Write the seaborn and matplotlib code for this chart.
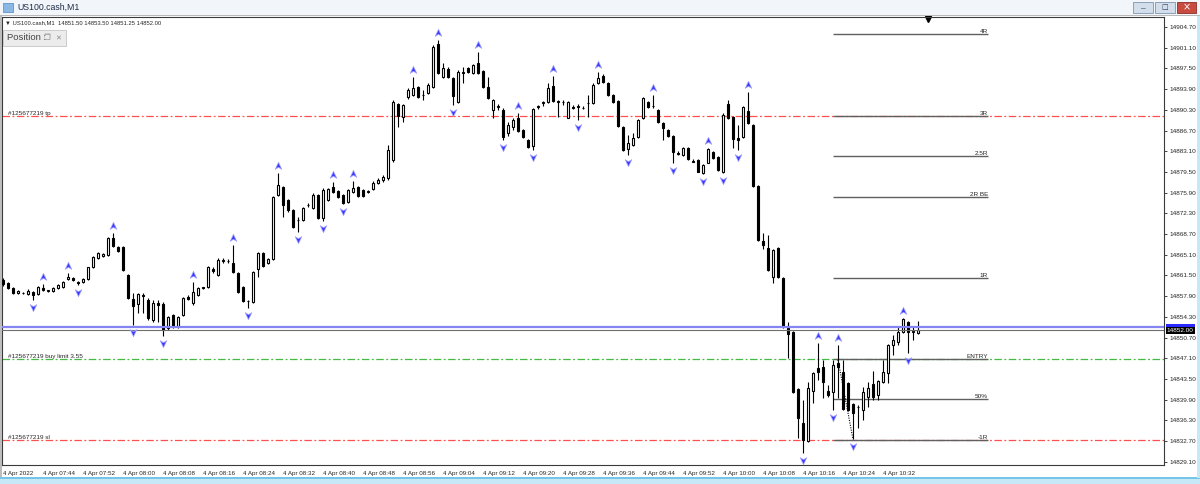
import numpy as np
import pandas as pd
import seaborn as sns
import matplotlib.pyplot as plt
from matplotlib.patches import Rectangle
from matplotlib.path import Path
from matplotlib.transforms import offset_copy, blended_transform_factory

sns.set_style('white')
plt.rcParams['font.family'] = ['Liberation Sans', 'DejaVu Sans']

# US100.cash M1 bars, 4 Apr 2022 07:36 .. 10:39
opens = [14860.7, 14860.2, 14859.3, 14858.4, 14858.4, 14858.3, 14858.6, 14858.3, 14859.3, 14858.8,
         14858.8, 14859.3, 14859.5, 14860.9, 14861.1, 14860.4, 14860.4, 14860.9, 14862.9, 14864.5,
         14864.9, 14865.1, 14868.0, 14866.4, 14866.4, 14861.6, 14857.4, 14856.5, 14858.1, 14857.2,
         14853.8, 14856.7, 14856.5, 14852.4, 14854.6, 14852.5, 14854.6, 14857.7, 14856.7, 14858.1,
         14859.3, 14859.5, 14862.6, 14861.6, 14864.0, 14864.0, 14863.7, 14861.9, 14859.5, 14857.0,
         14856.9, 14862.6, 14865.4, 14863.7, 14864.4, 14875.5, 14876.9, 14874.6, 14872.9, 14871.1,
         14871.1, 14873.7, 14873.2, 14875.5, 14871.5, 14874.6, 14876.9, 14876.2, 14875.5, 14874.3,
         14876.0, 14876.9, 14876.4, 14876.0, 14876.5, 14877.6, 14878.1, 14878.4, 14881.6, 14891.3,
         14889.1, 14892.5, 14892.9, 14894.3, 14892.9, 14893.2, 14894.3, 14901.7, 14896.0, 14897.4,
         14895.8, 14891.7, 14896.7, 14897.6, 14896.7, 14898.4, 14897.1, 14894.3, 14890.3, 14890.8,
         14890.3, 14886.3, 14887.3, 14888.9, 14886.8, 14885.1, 14884.0, 14890.8, 14891.5, 14891.7,
         14894.4, 14891.7, 14891.7, 14888.9, 14890.8, 14890.8, 14890.6, 14891.5, 14891.5, 14894.9,
         14896.2, 14895.0, 14892.9, 14891.8, 14887.3, 14883.5, 14884.2, 14885.6, 14888.9, 14891.7,
         14891.0, 14890.3, 14888.0, 14886.8, 14885.7, 14882.8, 14882.4, 14883.7, 14881.4, 14881.6,
         14879.3, 14881.1, 14882.9, 14882.1, 14879.5, 14891.3, 14889.1, 14885.4, 14885.6, 14890.1,
         14887.7, 14877.1, 14867.5, 14866.3, 14861.2, 14866.3, 14861.1, 14852.4, 14851.7, 14841.7,
         14835.8, 14832.7, 14841.4, 14845.4, 14845.6, 14841.4, 14841.2, 14846.3, 14844.7, 14842.8,
         14839.1, 14838.6, 14838.1, 14840.4, 14842.6, 14840.7, 14843.0, 14844.5, 14849.4, 14849.9,
         14851.7, 14853.4, 14851.7, 14851.5]
highs = [14861.1, 14860.4, 14859.5, 14859.0, 14858.6, 14859.1, 14858.8, 14859.7, 14860.0, 14859.0,
         14859.5, 14860.0, 14860.5, 14861.9, 14861.2, 14860.5, 14861.1, 14863.0, 14864.9, 14865.5,
         14865.4, 14868.2, 14868.9, 14866.6, 14866.6, 14861.8, 14858.4, 14858.4, 14858.4, 14857.6,
         14857.2, 14857.2, 14856.9, 14854.4, 14854.8, 14854.4, 14857.7, 14858.1, 14860.4, 14859.5,
         14859.5, 14863.1, 14862.9, 14864.5, 14864.5, 14864.4, 14866.8, 14862.1, 14859.7, 14857.2,
         14862.3, 14865.6, 14865.6, 14864.5, 14875.3, 14879.3, 14877.1, 14874.8, 14873.1, 14871.7,
         14873.4, 14874.1, 14875.8, 14875.7, 14876.7, 14876.7, 14877.8, 14876.4, 14875.7, 14876.5,
         14877.9, 14877.1, 14876.5, 14876.4, 14877.9, 14878.4, 14879.0, 14884.2, 14892.0, 14891.5,
         14891.3, 14894.1, 14896.0, 14894.4, 14893.7, 14895.0, 14901.6, 14902.4, 14898.4, 14897.7,
         14896.0, 14897.2, 14897.7, 14897.7, 14898.3, 14900.4, 14897.2, 14896.0, 14892.2, 14891.3,
         14890.6, 14888.2, 14888.9, 14889.7, 14887.0, 14885.2, 14890.6, 14891.1, 14891.8, 14895.0,
         14896.2, 14892.0, 14892.0, 14891.8, 14891.1, 14891.3, 14891.0, 14892.9, 14895.0, 14896.9,
         14896.5, 14895.1, 14893.0, 14892.0, 14887.5, 14885.9, 14886.3, 14888.7, 14892.5, 14891.8,
         14892.9, 14890.4, 14888.2, 14887.0, 14885.9, 14883.1, 14883.8, 14883.8, 14881.7, 14881.7,
         14880.9, 14883.7, 14883.1, 14882.3, 14889.7, 14892.0, 14889.2, 14887.7, 14891.0, 14893.4,
         14887.8, 14877.2, 14868.9, 14868.5, 14866.1, 14866.4, 14861.2, 14853.4, 14851.8, 14841.9,
         14839.8, 14843.0, 14844.7, 14849.7, 14846.8, 14842.4, 14846.8, 14849.4, 14846.8, 14843.0,
         14839.3, 14839.0, 14842.1, 14843.0, 14844.9, 14843.3, 14846.8, 14849.6, 14851.1, 14852.5,
         14854.1, 14853.6, 14852.5, 14853.5]
lows = [14859.7, 14859.1, 14858.3, 14858.3, 14858.3, 14858.1, 14857.2, 14858.1, 14858.8, 14858.6,
        14858.6, 14859.1, 14859.3, 14860.7, 14860.5, 14859.8, 14860.2, 14860.7, 14862.8, 14864.4,
        14864.7, 14864.9, 14866.4, 14865.6, 14862.3, 14857.4, 14852.9, 14855.0, 14855.0, 14853.8,
        14853.4, 14853.4, 14851.0, 14852.0, 14852.4, 14852.4, 14854.4, 14857.2, 14856.4, 14857.9,
        14859.1, 14859.3, 14861.9, 14861.4, 14863.7, 14863.7, 14861.9, 14858.4, 14856.9, 14855.8,
        14856.7, 14861.2, 14863.0, 14863.5, 14864.2, 14875.3, 14871.7, 14872.5, 14869.7, 14869.1,
        14871.0, 14873.4, 14873.0, 14871.3, 14871.0, 14874.4, 14875.8, 14875.0, 14873.9, 14874.1,
        14875.8, 14875.1, 14875.1, 14875.8, 14876.4, 14877.4, 14877.7, 14878.1, 14881.2, 14887.3,
        14888.2, 14892.2, 14892.7, 14892.4, 14892.0, 14893.0, 14894.1, 14896.5, 14895.8, 14895.8,
        14891.1, 14891.5, 14895.0, 14896.7, 14896.5, 14896.5, 14894.1, 14892.2, 14888.9, 14890.3,
        14885.1, 14885.8, 14886.8, 14886.4, 14885.4, 14883.7, 14883.3, 14890.4, 14891.0, 14891.5,
        14891.7, 14889.1, 14891.1, 14888.9, 14890.4, 14888.6, 14890.4, 14889.0, 14891.3, 14894.8,
        14894.9, 14892.7, 14891.5, 14887.3, 14883.1, 14882.4, 14884.0, 14885.4, 14888.7, 14890.6,
        14890.6, 14888.0, 14885.1, 14885.6, 14881.0, 14882.4, 14882.3, 14881.6, 14881.2, 14879.5,
        14879.1, 14881.0, 14881.7, 14879.6, 14879.3, 14888.7, 14883.7, 14883.3, 14885.4, 14887.8,
        14876.9, 14867.5, 14866.1, 14862.3, 14860.2, 14861.1, 14852.3, 14847.1, 14841.1, 14833.2,
        14830.6, 14832.5, 14839.3, 14843.3, 14840.2, 14840.4, 14838.1, 14840.2, 14838.1, 14837.9,
        14833.0, 14834.9, 14836.4, 14838.6, 14839.8, 14839.8, 14842.8, 14842.8, 14847.7, 14849.4,
        14851.5, 14848.0, 14850.3, 14851.25]
closes = [14860.0, 14859.3, 14858.4, 14858.8, 14858.5, 14858.8, 14858.1, 14859.5, 14859.0, 14858.9,
          14859.3, 14859.8, 14860.4, 14861.2, 14860.7, 14860.2, 14860.9, 14862.9, 14864.7, 14865.4,
          14865.2, 14868.0, 14866.6, 14865.7, 14862.4, 14857.6, 14856.2, 14858.3, 14858.0, 14854.1,
          14856.7, 14856.3, 14852.0, 14854.3, 14852.5, 14854.3, 14857.6, 14857.4, 14858.6, 14859.3,
          14859.4, 14862.9, 14862.3, 14864.2, 14864.1, 14864.0, 14862.1, 14858.6, 14857.0, 14857.1,
          14862.1, 14865.4, 14863.1, 14864.4, 14875.1, 14877.2, 14873.7, 14872.9, 14869.9, 14871.2,
          14873.2, 14873.8, 14875.5, 14871.5, 14876.4, 14876.5, 14876.0, 14875.1, 14874.1, 14876.4,
          14876.7, 14875.3, 14875.3, 14876.1, 14877.6, 14878.1, 14878.6, 14883.3, 14891.7, 14889.2,
          14891.1, 14893.7, 14894.1, 14892.5, 14892.8, 14894.6, 14901.2, 14896.7, 14897.6, 14896.0,
          14892.7, 14896.9, 14896.8, 14896.9, 14898.1, 14896.7, 14894.3, 14892.4, 14892.0, 14890.9,
          14885.6, 14887.7, 14888.5, 14886.6, 14885.6, 14883.8, 14890.4, 14890.9, 14891.6, 14894.1,
          14891.8, 14891.8, 14891.6, 14891.7, 14890.7, 14890.9, 14890.7, 14891.4, 14894.6, 14895.8,
          14895.1, 14892.9, 14891.7, 14887.5, 14883.3, 14884.5, 14885.4, 14888.5, 14892.3, 14890.8,
          14890.9, 14888.2, 14887.1, 14885.7, 14882.9, 14882.7, 14883.7, 14881.7, 14881.3, 14879.5,
          14880.7, 14883.5, 14881.9, 14879.8, 14889.4, 14888.9, 14885.2, 14885.1, 14890.8, 14888.0,
          14877.1, 14867.7, 14866.8, 14862.4, 14865.9, 14861.2, 14852.5, 14851.3, 14841.2, 14836.7,
          14832.9, 14841.9, 14844.5, 14844.7, 14843.0, 14840.7, 14845.9, 14845.6, 14838.3, 14838.1,
          14837.6, 14838.7, 14841.2, 14841.9, 14840.4, 14843.1, 14844.7, 14849.4, 14850.3, 14851.7,
          14853.9, 14851.7, 14851.8, 14852.0]

# bars carrying a fractal arrow
up_fractals = [8, 13, 22, 38, 46, 55, 66, 70, 82, 87, 95, 103, 110, 119, 130, 141, 149, 163, 167, 180]
down_fractals = [6, 15, 26, 32, 49, 59, 64, 68, 90, 100, 106, 115, 125, 134, 140, 144, 147, 160, 166, 170, 181]

time_labels = ['4 Apr 2022', '4 Apr 07:44', '4 Apr 07:52', '4 Apr 08:00', '4 Apr 08:08', '4 Apr 08:16',
               '4 Apr 08:24', '4 Apr 08:32', '4 Apr 08:40', '4 Apr 08:48', '4 Apr 08:56', '4 Apr 09:04',
               '4 Apr 09:12', '4 Apr 09:20', '4 Apr 09:28', '4 Apr 09:36', '4 Apr 09:44', '4 Apr 09:52',
               '4 Apr 10:00', '4 Apr 10:08', '4 Apr 10:16', '4 Apr 10:24', '4 Apr 10:32']
price_ticks = np.round(np.arange(14829.10, 14905.0, 3.60), 2)

tp_price = 14889.3
limit_price = 14847.0
sl_price = 14832.9
bid = 14852.00
ask = 14852.50

fib_levels = [14903.4, 14889.3, 14882.25, 14875.2, 14861.1, 14847.0, 14839.95, 14832.9]
fib_names = ['4R', '3R', '2.5R', '2R BE', '1R', 'ENTRY', '50%', '-1R']
fib_start, fib_end = 166, 197
trend_bars = [167, 170]
trend_prices = [14846.8, 14833.0]
shift_bar = 185

df = pd.DataFrame({'open': opens, 'high': highs, 'low': lows, 'close': closes})
df['bar'] = np.arange(len(df))
bull = df['close'] >= df['open']
body_lo = df[['open', 'close']].min(axis=1)
body_h = (df['close'] - df['open']).abs()

W, H = 1200, 484
fig = plt.figure(figsize=(W / 100, H / 100), dpi=100)
fig.patch.set_facecolor('white')


def fx(x):
    return x / W


def fy(y):
    return 1 - y / H


ax = fig.add_axes([fx(2), fy(465), fx(1164) - fx(2), fy(17) - fy(465)])
ax.set_facecolor('white')
ax.set_xlim(-0.2, 232.2)
ax.set_ylim(14828.53, 14906.44)

# trade lines
dd = [6, 2, 1.5, 2]
ax.axhline(tp_price, color='#ff5050', lw=0.9, dashes=dd, zorder=1)
ax.axhline(limit_price, color='#44bb44', lw=0.9, dashes=dd, zorder=1)
ax.axhline(sl_price, color='#ff5050', lw=0.9, dashes=dd, zorder=1)
ytr = ax.get_yaxis_transform()
ax.text(0.005, tp_price, '#125677219 tp', transform=ytr, fontsize=4.6, va='bottom')
ax.text(0.005, limit_price, '#125677219 buy limit 3.55', transform=ytr, fontsize=4.6, va='bottom')
ax.text(0.005, sl_price, '#125677219 sl', transform=ytr, fontsize=4.6, va='bottom')

# R levels
ax.hlines(fib_levels, fib_start, fib_end, color='#606060', lw=1.0, zorder=1)
for lvl, name in zip(fib_levels, fib_names):
    ax.text(fib_end, lvl, name, fontsize=4.6, ha='right', va='bottom')
ax.plot(trend_bars, trend_prices, color='black', lw=0.8, ls=(0, (1, 1.2)), zorder=2)

# candles
ax.vlines(df['bar'], df['low'], df['high'], color='black', lw=0.8, zorder=2)
ax.bar(df['bar'][bull], body_h[bull], bottom=body_lo[bull], width=0.5,
       color='white', edgecolor='black', linewidth=0.8, zorder=3)
ax.bar(df['bar'][~bull], body_h[~bull], bottom=body_lo[~bull], width=0.5,
       color='black', edgecolor='black', linewidth=0.8, zorder=3)

# bid / ask lines
ax.axhline(ask, color='#8585f2', lw=1.6, zorder=4)
ax.axhline(bid, color='#6e6e6e', lw=0.8, zorder=4)

# fractal arrows
codes = [Path.MOVETO, Path.LINETO, Path.LINETO, Path.LINETO, Path.CLOSEPOLY]
up_arrow = Path([(0, 1), (0.8, -0.7), (0, -0.2), (-0.8, -0.7), (0, 1)], codes)
dn_arrow = Path([(0, -1), (0.8, 0.7), (0, 0.2), (-0.8, 0.7), (0, -1)], codes)
ups = df.loc[up_fractals]
dns = df.loc[down_fractals]
sns.scatterplot(x=ups['bar'], y=ups['high'], ax=ax, marker=up_arrow, s=36, color='#3c3cff',
                edgecolor='#a8a8ff', linewidth=0.5, legend=False, zorder=5,
                transform=offset_copy(ax.transData, fig=fig, y=7, units='dots'))
sns.scatterplot(x=dns['bar'], y=dns['low'], ax=ax, marker=dn_arrow, s=36, color='#3c3cff',
                edgecolor='#a8a8ff', linewidth=0.5, legend=False, zorder=5,
                transform=offset_copy(ax.transData, fig=fig, y=-7, units='dots'))

# chart shift marker
ax.plot([shift_bar], [0.995], marker='v', ms=4, color='black', clip_on=False,
        transform=blended_transform_factory(ax.transData, ax.transAxes))

# axes
ax.yaxis.tick_right()
ax.set_yticks(price_ticks)
ax.set_yticklabels([f'{p:.2f}' for p in price_ticks])
ax.tick_params(axis='y', direction='out', length=2.5, width=0.6, labelsize=4.6, pad=1.5)
ax.set_xticks(range(0, 8 * len(time_labels), 8))
ax.set_xticklabels(time_labels)
for lab in ax.get_xticklabels():
    lab.set_horizontalalignment('left')
ax.tick_params(axis='x', direction='out', length=2.5, width=0.6, labelsize=4.5, pad=1.5)
ax.set_xlabel('')
ax.set_ylabel('')
for s in ax.spines.values():
    s.set_color('#3a3a3a')
    s.set_linewidth(0.8)

ax.text(1.0025, ask, f'{ask:.2f}', transform=ytr, fontsize=4.6, color='#2a2aff', va='center', ha='left',
        bbox=dict(boxstyle='square,pad=0.15', fc='#2a2aff', ec='none'), zorder=6, clip_on=False)
ax.text(1.0025, bid, f'{bid:.2f}', transform=ytr, fontsize=4.6, color='white', va='center', ha='left',
        bbox=dict(boxstyle='square,pad=0.15', fc='black', ec='none'), zorder=7, clip_on=False)

# window chrome
def rect(x0, y0, x1, y1, **kw):
    fig.patches.append(Rectangle((fx(x0), fy(y1)), fx(x1) - fx(x0), fy(y0) - fy(y1),
                                 transform=fig.transFigure, **kw))


rect(0, 0, 1200, 15, fc='#f2f5f9', ec='none')
rect(0, 15, 1200, 16, fc='#b9b9b9', ec='none')
rect(3, 3, 13, 12, fc='#8ab9e6', ec='#4f86c0', lw=0.5)
fig.text(fx(17), fy(7.5), 'US100.cash,M1', fontsize=6.3, va='center', color='#1e2f4a')
rect(1133, 2, 1153, 13, fc='#d3deec', ec='#7f93ad', lw=0.6)
rect(1155, 2, 1175, 13, fc='#d3deec', ec='#7f93ad', lw=0.6)
rect(1177, 2, 1196, 13, fc='#c84b3f', ec='#8a2e25', lw=0.6)
fig.text(fx(1143), fy(8.5), '–', fontsize=6, ha='center', va='center', color='#2b3a50')
fig.text(fx(1165), fy(7.5), '□', fontsize=5, ha='center', va='center', color='#2b3a50', family='DejaVu Sans')
fig.text(fx(1186.5), fy(7.5), '×', fontsize=7, ha='center', va='center', color='white', family='DejaVu Sans')

fig.text(fx(5), fy(22.5), '▼ US100.cash,M1  14851.50 14853.50 14851.25 14852.00', fontsize=4.2, va='center')
rect(3, 30, 66, 46, fc='#ececec', ec='#c4c4c4', lw=0.6)
fig.text(fx(7), fy(38), 'Position :', fontsize=6.8, va='center', color='#444444')
fig.text(fx(44), fy(38), '❐', fontsize=5.5, va='center', color='#8a8a8a', family=['DejaVu Sans', 'Noto Sans CJK JP'])
fig.text(fx(55), fy(38), '✕', fontsize=5, va='center', color='#8a8a8a', family='DejaVu Sans')

rect(0, 16, 2, 478, fc='#bdbdbd', ec='none')
rect(0, 478, 1200, 484, fc='#c7e8f7', ec='none')
rect(0, 477, 1200, 478.5, fc='#74c6e8', ec='none')
rect(1197, 16, 1200, 478, fc='#c7e8f7', ec='none')

fig.savefig('out.png', dpi=100)
